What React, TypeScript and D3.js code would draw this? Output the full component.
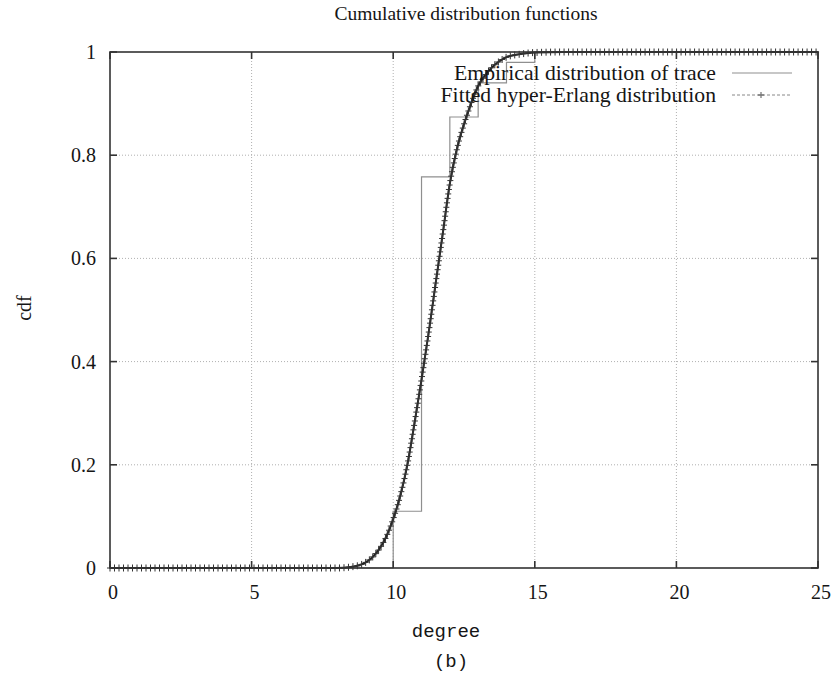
import React, { useEffect, useRef } from 'react';
import * as d3 from 'd3';

const W = 839;
const H = 681;

const title = 'Cumulative distribution functions';
const xLabel = 'degree';
const yLabel = 'cdf';
const caption = '(b)';
const legendLabels = ['Empirical distribution of trace', 'Fitted hyper-Erlang distribution'];

const xTicks = [0, 5, 10, 15, 20, 25];
const xTickLabels = ['0', '5', '10', '15', '20', '25'];
const yTicks = [0, 0.2, 0.4, 0.6, 0.8, 1];
const yTickLabels = ['0', '0.2', '0.4', '0.6', '0.8', '1'];

// Empirical (step) CDF of the trace
const empiricalDegree = [0, 10, 11, 12, 13, 14, 15, 25];
const empiricalCdf = [0, 0.11, 0.758, 0.874, 0.94, 0.98, 1, 1];

// Fitted hyper-Erlang CDF
const fittedDegree = [0, 1, 2, 3, 4, 5, 6, 7, 8, 8.5, 9, 9.25, 9.5, 9.75, 10, 10.25, 10.5, 10.75, 11, 11.25, 11.5, 11.75, 12, 12.25, 12.5, 12.75, 13, 13.25, 13.5, 13.75, 14, 14.5, 15, 16, 17, 18, 19, 20, 21, 22, 23, 24, 25];
const fittedCdf = [0, 0, 0, 0, 0, 0, 0, 0, 0, 0.002, 0.01, 0.02, 0.036, 0.06, 0.095, 0.14, 0.2, 0.28, 0.365, 0.455, 0.552, 0.648, 0.745, 0.812, 0.86, 0.9, 0.934, 0.955, 0.971, 0.982, 0.99, 0.996, 0.999, 1, 1, 1, 1, 1, 1, 1, 1, 1, 1];

const plotLeft = 110;
const plotRight = 818;
const plotTop = 52;
const plotBottom = 568;

const serif = '"Liberation Serif", "Times New Roman", serif';
const mono = '"Liberation Mono", "Courier New", monospace';
const ink = '#151515';

export default function App() {
  const ref = useRef<SVGSVGElement | null>(null);

  useEffect(() => {
    const svg = d3.select(ref.current);
    svg.selectAll('*').remove();

    const x = d3.scaleLinear().domain([0, 25]).range([plotLeft, plotRight]);
    const y = d3.scaleLinear().domain([0, 1]).range([plotBottom, plotTop]);

    svg.append('rect').attr('width', W).attr('height', H).attr('fill', '#fff');

    // grid
    const grid = svg.append('g');
    xTicks.slice(1, -1).forEach((t) => {
      grid.append('line')
        .attr('x1', x(t)).attr('x2', x(t))
        .attr('y1', plotTop).attr('y2', plotBottom)
        .attr('stroke', '#b0b0b0').attr('stroke-width', 1)
        .attr('stroke-dasharray', '1,2');
    });
    yTicks.slice(1, -1).forEach((t) => {
      grid.append('line')
        .attr('x1', plotLeft).attr('x2', plotRight)
        .attr('y1', y(t)).attr('y2', y(t))
        .attr('stroke', '#b0b0b0').attr('stroke-width', 1)
        .attr('stroke-dasharray', '1,2');
    });

    // empirical step line
    const empData = empiricalDegree.map((d, i) => [d, empiricalCdf[i]] as [number, number]);
    const stepLine = d3.line<[number, number]>()
      .x((d) => x(d[0])).y((d) => y(d[1]))
      .curve(d3.curveStepAfter);
    svg.append('path')
      .attr('d', stepLine(empData))
      .attr('fill', 'none')
      .attr('stroke', '#8f8f8f')
      .attr('stroke-width', 1.2);

    // fitted line
    const fitData = fittedDegree.map((d, i) => [d, fittedCdf[i]] as [number, number]);
    const fitLine = d3.line<[number, number]>()
      .x((d) => x(d[0])).y((d) => y(d[1]))
      .curve(d3.curveMonotoneX);
    const fitPath = svg.append('path')
      .attr('d', fitLine(fitData))
      .attr('fill', 'none')
      .attr('stroke', '#222')
      .attr('stroke-width', 2);

    // '+' point markers along the fitted curve
    const node = fitPath.node() as SVGPathElement;
    const total = node.getTotalLength();
    const step = 4.5;
    const marks = svg.append('g').attr('stroke', '#333').attr('stroke-width', 1);
    for (let l = 0; l <= total; l += step) {
      const p = node.getPointAtLength(l);
      marks.append('line').attr('x1', p.x - 3).attr('x2', p.x + 3).attr('y1', p.y).attr('y2', p.y);
      marks.append('line').attr('x1', p.x).attr('x2', p.x).attr('y1', p.y - 3.5).attr('y2', p.y + 3.5);
    }

    // border
    svg.append('rect')
      .attr('x', plotLeft).attr('y', plotTop)
      .attr('width', plotRight - plotLeft).attr('height', plotBottom - plotTop)
      .attr('fill', 'none').attr('stroke', '#333').attr('stroke-width', 1.6);

    // ticks (inward, mirrored)
    const tk = svg.append('g').attr('stroke', '#333').attr('stroke-width', 1.6);
    xTicks.forEach((t) => {
      tk.append('line').attr('x1', x(t)).attr('x2', x(t)).attr('y1', plotBottom).attr('y2', plotBottom - 7);
      tk.append('line').attr('x1', x(t)).attr('x2', x(t)).attr('y1', plotTop).attr('y2', plotTop + 7);
    });
    yTicks.forEach((t) => {
      tk.append('line').attr('x1', plotLeft).attr('x2', plotLeft + 7).attr('y1', y(t)).attr('y2', y(t));
      tk.append('line').attr('x1', plotRight).attr('x2', plotRight - 7).attr('y1', y(t)).attr('y2', y(t));
    });

    // tick labels
    xTicks.forEach((t, i) => {
      svg.append('text')
        .attr('x', x(t) + 3).attr('y', 599)
        .attr('text-anchor', 'middle')
        .attr('font-family', serif).attr('font-size', 20).attr('fill', ink)
        .text(xTickLabels[i]);
    });
    yTicks.forEach((t, i) => {
      svg.append('text')
        .attr('x', 96).attr('y', y(t))
        .attr('dy', '0.35em')
        .attr('text-anchor', 'end')
        .attr('font-family', serif).attr('font-size', 20).attr('fill', ink)
        .text(yTickLabels[i]);
    });

    // title
    svg.append('text')
      .attr('x', 466).attr('y', 20)
      .attr('text-anchor', 'middle')
      .attr('font-family', serif).attr('font-size', 19.5).attr('fill', ink)
      .text(title);

    // axis labels
    svg.append('text')
      .attr('transform', 'translate(31,308) rotate(-90)')
      .attr('text-anchor', 'middle')
      .attr('font-family', serif).attr('font-size', 20).attr('fill', ink)
      .text(yLabel);
    svg.append('text')
      .attr('x', 446).attr('y', 637)
      .attr('text-anchor', 'middle')
      .attr('font-family', mono).attr('font-size', 19).attr('fill', ink)
      .text(xLabel);
    svg.append('text')
      .attr('x', 451).attr('y', 667)
      .attr('text-anchor', 'middle')
      .attr('font-family', mono).attr('font-size', 19).attr('fill', ink)
      .text(caption);

    // legend
    const legY = [73, 95];
    legendLabels.forEach((lab, i) => {
      svg.append('text')
        .attr('x', 716).attr('y', legY[i])
        .attr('dy', '0.33em')
        .attr('text-anchor', 'end')
        .attr('font-family', serif).attr('font-size', 21.7).attr('fill', ink)
        .text(lab);
    });
    svg.append('line')
      .attr('x1', 732).attr('x2', 792).attr('y1', legY[0]).attr('y2', legY[0])
      .attr('stroke', '#8f8f8f').attr('stroke-width', 1.2);
    svg.append('line')
      .attr('x1', 732).attr('x2', 792).attr('y1', legY[1]).attr('y2', legY[1])
      .attr('stroke', '#888').attr('stroke-width', 1)
      .attr('stroke-dasharray', '3,2');
    svg.append('line')
      .attr('x1', 758).attr('x2', 764).attr('y1', legY[1]).attr('y2', legY[1])
      .attr('stroke', '#555').attr('stroke-width', 1);
    svg.append('line')
      .attr('x1', 761).attr('x2', 761).attr('y1', legY[1] - 3).attr('y2', legY[1] + 3)
      .attr('stroke', '#555').attr('stroke-width', 1);
  }, []);

  return (
    <svg
      ref={ref}
      width={W}
      height={H}
      style={{ position: 'absolute', left: 0, top: 0, display: 'block' }}
    />
  );
}
